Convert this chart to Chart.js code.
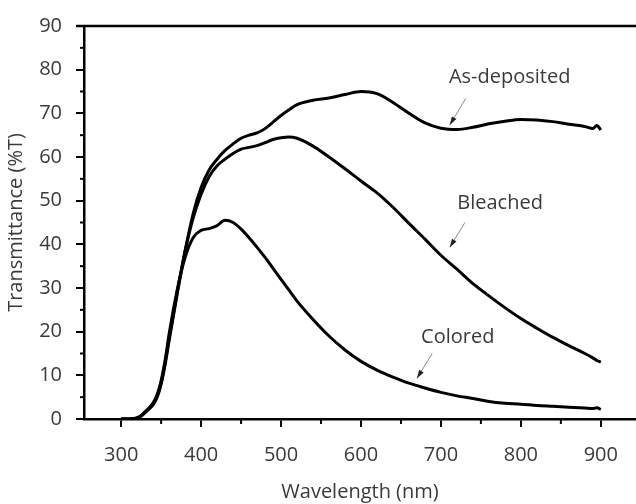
<!DOCTYPE html>
<html>
<head>
<meta charset="utf-8">
<script src="https://cdn.jsdelivr.net/npm/chart.js@4"></script>
<style>
  html, body { margin: 0; padding: 0; background: #fff; }
  #wrap { width: 636px; height: 504px; }
</style>
</head>
<body>
<div id="wrap"><canvas id="myChart" width="636" height="504"></canvas></div>
<script>
// wavelengths (nm) shared by all three curves
const wavelength = [300,310,320,325,330,335,340,345,350,355,360,370,380,390,400,410,420,430,440,450,460,470,480,490,500,510,520,540,560,580,600,620,640,660,680,700,720,740,760,780,800,820,840,860,880,890,895,900];

const asDeposited = [0,0,0.2,0.7,1.5,2.3,3.3,5,8,12.5,18,28.5,38.5,47,53,57,59.5,61.5,63,64.3,65,65.5,66.5,68,69.5,70.8,72,73,73.5,74.3,75,74.5,72.5,70,67.8,66.6,66.3,66.8,67.6,68.2,68.6,68.5,68.1,67.5,67,66.5,67.2,66.2];
const bleached    = [0,0,0.2,0.7,1.5,2.4,3.4,5.2,8.3,13,18.5,29,38.5,46,51.5,55.5,58,59.5,60.8,61.8,62.2,62.6,63.3,64,64.4,64.6,64.3,62.5,60,57.3,54.5,51.8,48.5,44.8,41.2,37.5,34.3,31,28.2,25.5,23,20.8,18.7,16.8,15,14,13.4,13];
const colored     = [0,0,0.3,0.8,1.7,2.6,3.7,5.6,8.8,13.5,19.5,29.5,37,41.5,43.2,43.6,44.3,45.5,45,43.5,41.5,39.3,37,34.5,32,29.5,27,22.8,19,15.8,13.2,11.2,9.6,8.2,7.1,6.1,5.3,4.7,4.0,3.6,3.4,3.1,2.9,2.7,2.5,2.4,2.6,2.2];

const xTicks = [300,400,500,600,700,800,900];
const yTicks = [0,10,20,30,40,50,60,70,80,90];

// labels with arrows: [text, textX, textY, arrowFromX, arrowFromY, arrowToX, arrowToY]
const notes = [
  ['As-deposited', 786, 78.2, 731, 73.4, 711, 67.3],
  ['Bleached',     774, 49.5, 730, 45,   711, 39.3],
  ['Colored',      721, 18.6, 689, 15,   670, 9.3]
];

const FONT = '"Open Sans", "DejaVu Sans", sans-serif';
const TXT = '#3a3a3a';

function pts(ys) {
  return wavelength.map((w, i) => ({x: w, y: ys[i]}));
}

const line = (label, ys) => ({
  label: label,
  data: pts(ys),
  borderColor: '#000',
  borderWidth: 3,
  pointRadius: 0,
  fill: false,
  cubicInterpolationMode: 'monotone'
});

// minor ticks, top frame line and the arrow labels
const extras = {
  id: 'extras',
  afterDraw(chart) {
    const c = chart.ctx, xs = chart.scales.x, ys = chart.scales.y;
    const a = chart.chartArea;
    c.save();
    c.strokeStyle = '#000';
    c.lineWidth = 2.5;
    c.beginPath();
    c.moveTo(a.left - 8, a.top);
    c.lineTo(a.right, a.top);
    c.stroke();
    c.lineWidth = 2;
    for (let v = 250; v <= 950; v += 100) {
      if (v < xs.min || v > xs.max) continue;
      const px = xs.getPixelForValue(v);
      c.beginPath(); c.moveTo(px, a.bottom); c.lineTo(px, a.bottom + 5); c.stroke();
    }
    for (let v = 5; v < 90; v += 10) {
      const py = ys.getPixelForValue(v);
      c.beginPath(); c.moveTo(a.left, py); c.lineTo(a.left - 4, py); c.stroke();
    }
    notes.forEach(n => {
      c.fillStyle = TXT;
      c.font = '20px ' + FONT;
      c.textAlign = 'center';
      c.textBaseline = 'middle';
      c.fillText(n[0], xs.getPixelForValue(n[1]), ys.getPixelForValue(n[2]));
      const x1 = xs.getPixelForValue(n[3]), y1 = ys.getPixelForValue(n[4]);
      const x2 = xs.getPixelForValue(n[5]), y2 = ys.getPixelForValue(n[6]);
      c.strokeStyle = '#8a8a8a';
      c.lineWidth = 1;
      c.beginPath(); c.moveTo(x1, y1); c.lineTo(x2, y2); c.stroke();
      const ang = Math.atan2(y2 - y1, x2 - x1);
      c.fillStyle = '#222';
      c.beginPath();
      c.moveTo(x2, y2);
      c.lineTo(x2 - 9 * Math.cos(ang - 0.3), y2 - 9 * Math.sin(ang - 0.3));
      c.lineTo(x2 - 9 * Math.cos(ang + 0.3), y2 - 9 * Math.sin(ang + 0.3));
      c.closePath();
      c.fill();
    });
    c.restore();
  }
};

const ctx = document.getElementById('myChart');
const myChart = new Chart(ctx, {
  type: 'line',
  data: {
    datasets: [
      line('As-deposited', asDeposited),
      line('Bleached', bleached),
      line('Colored', colored)
    ]
  },
  options: {
    responsive: false,
    animation: false,
    layout: { padding: { top: 23, right: 0, left: 0, bottom: 0 } },
    plugins: { legend: { display: false }, tooltip: { enabled: false } },
    scales: {
      x: {
        type: 'linear',
        min: 253.5,
        max: 944,
        afterFit: s => { s.height = 85; },
        afterBuildTicks: s => { s.ticks = xTicks.map(v => ({value: v})); },
        border: { color: '#000', width: 2.5 },
        grid: { drawOnChartArea: false, drawTicks: true, tickLength: 8, color: '#000', lineWidth: 2 },
        ticks: { color: TXT, font: { family: FONT, size: 20 }, padding: 16, maxRotation: 0 },
        title: { display: true, text: 'Wavelength (nm)', color: TXT, font: { family: FONT, size: 20 }, padding: { top: 0, bottom: 0 } }
      },
      y: {
        min: 0,
        max: 90,
        afterFit: s => { s.width = 84; },
        afterBuildTicks: s => { s.ticks = yTicks.map(v => ({value: v})); },
        border: { color: '#000', width: 2.5 },
        grid: { drawOnChartArea: false, drawTicks: true, tickLength: 8, color: '#000', lineWidth: 2 },
        ticks: { color: TXT, font: { family: FONT, size: 20 }, padding: 14 },
        title: { display: true, text: 'Transmittance (%T)', color: TXT, font: { family: FONT, size: 20 }, padding: { top: 4, bottom: 0 } }
      }
    }
  },
  plugins: [extras]
});
</script>
</body>
</html>
